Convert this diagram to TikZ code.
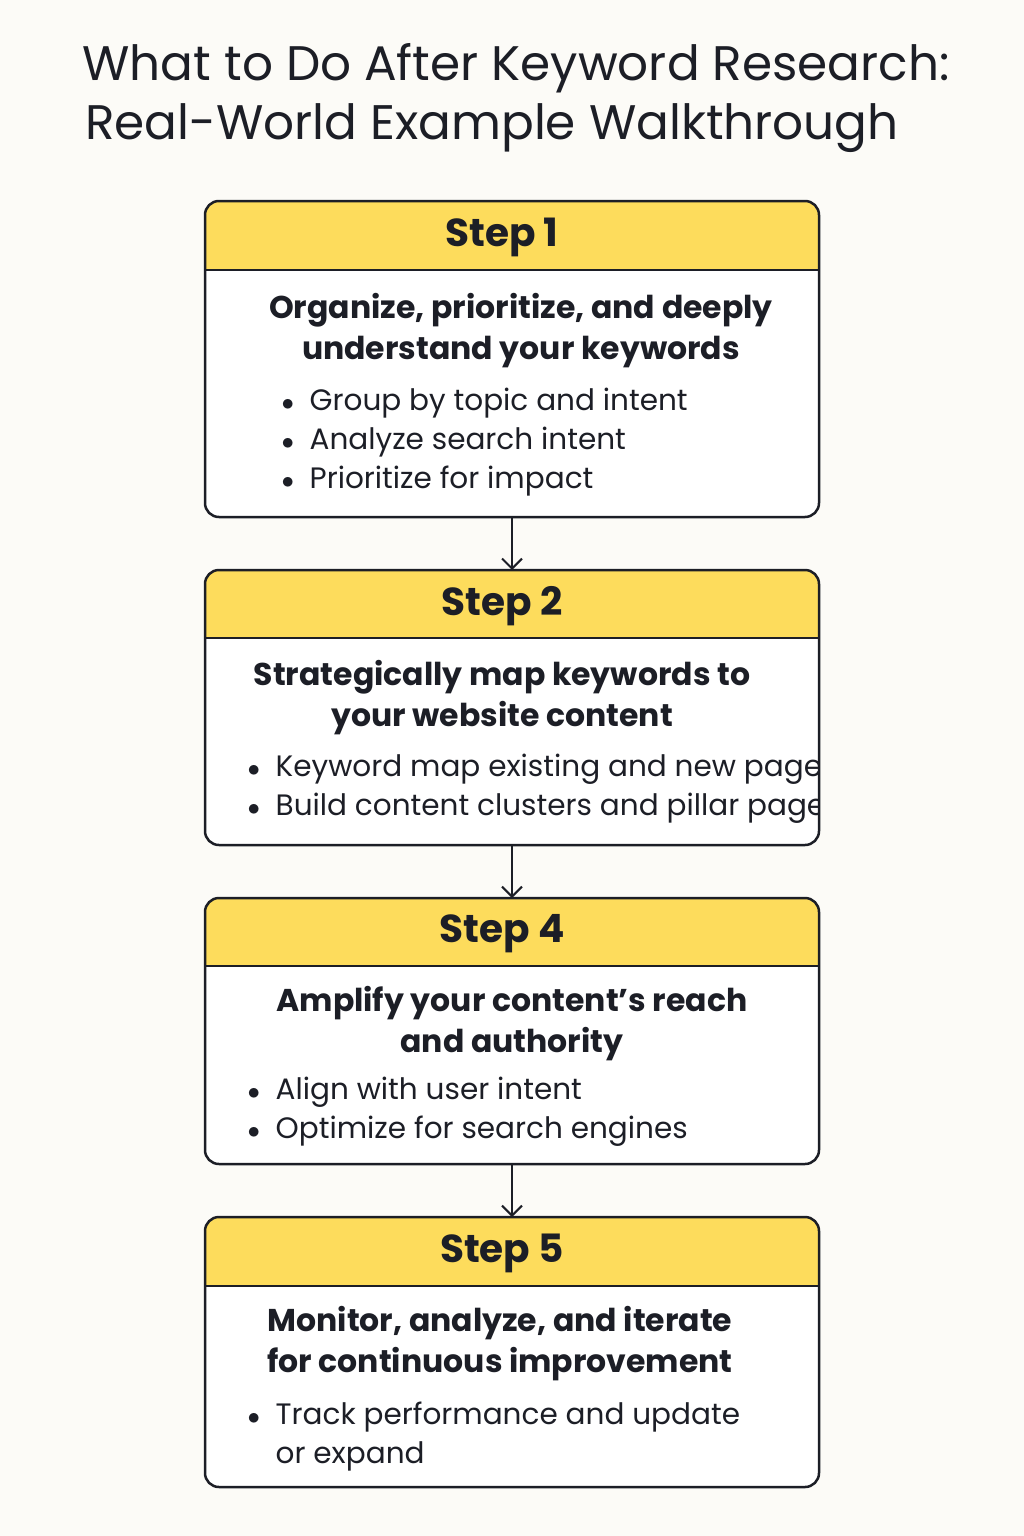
\documentclass[tikz,border=0pt]{standalone}
\usepackage{fontspec}
\usetikzlibrary{arrows.meta}
\setmainfont{Poppins}
\definecolor{bg}{HTML}{FCFBF7}
\definecolor{yel}{HTML}{FDDC5C}
\definecolor{ink}{HTML}{1C1E26}
\begin{document}
\begin{tikzpicture}[x=1pt,y=-1pt,
  hdr/.style={font=\fontsize{39}{44}\selectfont\bfseries,text=ink},
  sub/.style={font=\fontsize{31.5}{41}\selectfont\bfseries,text=ink,align=center},
  bul/.style={font=\fontsize{29.5}{39}\selectfont,text=ink,align=left,anchor=west},
  arr/.style={draw=ink,line width=2pt,-{Straight Barb[length=10pt,width=20pt]}}]
\fill[bg] (0,0) rectangle (1024,1536);
\useasboundingbox (0,0) rectangle (1024,1536);
\node[font=\fontsize{48.5}{56}\selectfont,text=ink] (t1) at (516,68) {What to Do After Keyword Research:};
\node[font=\fontsize{48.5}{56}\selectfont,text=ink] (t2) at (492,128) {Real-World Example Walkthrough};
\foreach \n/\top/\hb/\bot/\lab in {a/201/270/517/Step 1,b/570/638/845/Step 2,c/898/966/1164/Step 4,d/1217/1286/1487/Step 5}{
  \begin{scope}
  \clip[rounded corners=14pt] (205,\top) rectangle (819,\bot);
  \fill[white] (205,\top) rectangle (819,\bot);
  \fill[yel] (205,\top) rectangle (819,\hb);
  \end{scope}
  \draw[ink,line width=2.5pt] (205,\hb) -- (819,\hb);
  \draw[ink,line width=2.5pt,rounded corners=14pt] (205,\top) rectangle (819,\bot);
  \node[hdr] (h\n) at (502,{(\top+\hb)/2+2}) {\lab};
  \coordinate (top\n) at (512,\top);
  \coordinate (bot\n) at (512,\bot);
}
\draw[arr] (bota) -- (topb);
\draw[arr] (botb) -- (topc);
\draw[arr] (botc) -- (topd);
\node[sub] (s1) at (521,331) {Organize, prioritize, and deeply\\understand your keywords};
\node[bul] (b1) at (278,442) {$\bullet$\ \ Group by topic and intent\\$\bullet$\ \ Analyze search intent\\$\bullet$\ \ Prioritize for impact};
\node[sub] (s2) at (502,698) {Strategically map keywords to\\your website content};
\begin{scope}
\clip (205,740) rectangle (818,840);
\node[bul] (b2) at (244,789) {$\bullet$\ \ Keyword map existing and new pages\\$\bullet$\ \ Build content clusters and pillar pages};
\end{scope}
\node[sub] (s4) at (512,1024) {Amplify your content’s reach\\and authority};
\node[bul] (b4) at (244,1112) {$\bullet$\ \ Align with user intent\\$\bullet$\ \ Optimize for search engines};
\node[sub] (s5) at (500,1344) {Monitor, analyze, and iterate\\for continuous improvement};
\node[bul] (b5) at (244,1437) {$\bullet$\ \ Track performance and update\\\phantom{$\bullet$\ \ }or expand};
\end{tikzpicture}
\end{document}
